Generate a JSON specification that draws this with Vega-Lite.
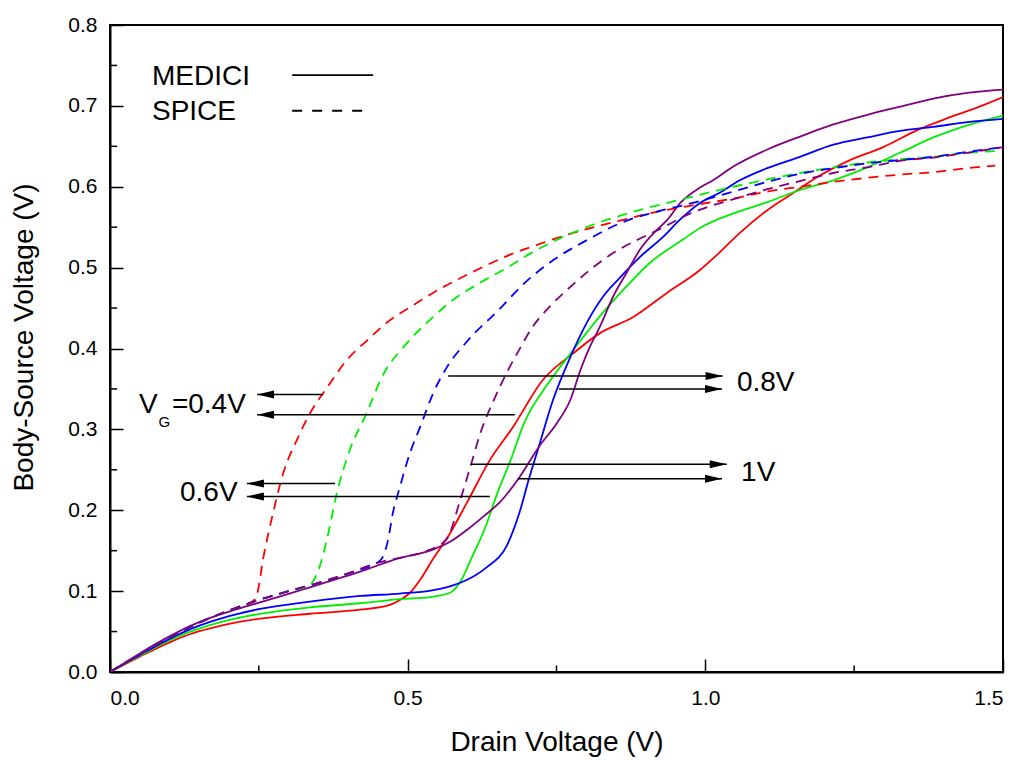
{
  "$schema": "https://vega.github.io/schema/vega-lite/v6.json",
  "autosize": {"type": "none"},
  "padding": {"left": 110, "top": 25, "right": 21, "bottom": 88},
  "width": 893,
  "height": 647,
  "background": "white",
  "config": {
    "font": "Liberation Sans",
    "view": {"stroke": "black", "strokeWidth": 2},
    "axis": {
      "grid": false,
      "domainColor": "black",
      "domainWidth": 2,
      "tickColor": "black",
      "tickWidth": 1.5,
      "tickSize": -13,
      "labelColor": "black",
      "labelFontSize": 21,
      "titleColor": "black",
      "titleFontSize": 28,
      "titleFontWeight": "normal",
      "labelFont": "Liberation Sans",
      "titleFont": "Liberation Sans"
    }
  },
  "datasets": {
    "curves": [
      {"vg":"0.4","model":"MEDICI","x":0,"y":0},{"vg":"0.4","model":"MEDICI","x":0.05,"y":0.019},{"vg":"0.4","model":"MEDICI","x":0.101,"y":0.037},{"vg":"0.4","model":"MEDICI","x":0.135,"y":0.047},{"vg":"0.4","model":"MEDICI","x":0.168,"y":0.054},{"vg":"0.4","model":"MEDICI","x":0.21,"y":0.061},{"vg":"0.4","model":"MEDICI","x":0.252,"y":0.066},{"vg":"0.4","model":"MEDICI","x":0.336,"y":0.072},{"vg":"0.4","model":"MEDICI","x":0.42,"y":0.077},{"vg":"0.4","model":"MEDICI","x":0.47,"y":0.083},{"vg":"0.4","model":"MEDICI","x":0.487,"y":0.089},{"vg":"0.4","model":"MEDICI","x":0.504,"y":0.098},{"vg":"0.4","model":"MEDICI","x":0.521,"y":0.114},{"vg":"0.4","model":"MEDICI","x":0.541,"y":0.138},{"vg":"0.4","model":"MEDICI","x":0.57,"y":0.17},{"vg":"0.4","model":"MEDICI","x":0.6,"y":0.21},{"vg":"0.4","model":"MEDICI","x":0.638,"y":0.262},{"vg":"0.4","model":"MEDICI","x":0.677,"y":0.303},{"vg":"0.4","model":"MEDICI","x":0.727,"y":0.361},{"vg":"0.4","model":"MEDICI","x":0.778,"y":0.394},{"vg":"0.4","model":"MEDICI","x":0.823,"y":0.419},{"vg":"0.4","model":"MEDICI","x":0.879,"y":0.439},{"vg":"0.4","model":"MEDICI","x":0.936,"y":0.469},{"vg":"0.4","model":"MEDICI","x":0.991,"y":0.497},{"vg":"0.4","model":"MEDICI","x":1.02,"y":0.516},{"vg":"0.4","model":"MEDICI","x":1.058,"y":0.543},{"vg":"0.4","model":"MEDICI","x":1.104,"y":0.571},{"vg":"0.4","model":"MEDICI","x":1.147,"y":0.592},{"vg":"0.4","model":"MEDICI","x":1.188,"y":0.612},{"vg":"0.4","model":"MEDICI","x":1.243,"y":0.633},{"vg":"0.4","model":"MEDICI","x":1.299,"y":0.649},{"vg":"0.4","model":"MEDICI","x":1.356,"y":0.67},{"vg":"0.4","model":"MEDICI","x":1.411,"y":0.686},{"vg":"0.4","model":"MEDICI","x":1.467,"y":0.701},{"vg":"0.4","model":"MEDICI","x":1.5,"y":0.711},

      {"vg":"0.6","model":"MEDICI","x":0,"y":0},{"vg":"0.6","model":"MEDICI","x":0.05,"y":0.02},{"vg":"0.6","model":"MEDICI","x":0.1,"y":0.039},{"vg":"0.6","model":"MEDICI","x":0.135,"y":0.05},{"vg":"0.6","model":"MEDICI","x":0.168,"y":0.058},{"vg":"0.6","model":"MEDICI","x":0.21,"y":0.066},{"vg":"0.6","model":"MEDICI","x":0.252,"y":0.072},{"vg":"0.6","model":"MEDICI","x":0.336,"y":0.08},{"vg":"0.6","model":"MEDICI","x":0.42,"y":0.085},{"vg":"0.6","model":"MEDICI","x":0.487,"y":0.09},{"vg":"0.6","model":"MEDICI","x":0.541,"y":0.093},{"vg":"0.6","model":"MEDICI","x":0.571,"y":0.098},{"vg":"0.6","model":"MEDICI","x":0.588,"y":0.111},{"vg":"0.6","model":"MEDICI","x":0.608,"y":0.142},{"vg":"0.6","model":"MEDICI","x":0.63,"y":0.178},{"vg":"0.6","model":"MEDICI","x":0.65,"y":0.22},{"vg":"0.6","model":"MEDICI","x":0.673,"y":0.262},{"vg":"0.6","model":"MEDICI","x":0.694,"y":0.305},{"vg":"0.6","model":"MEDICI","x":0.74,"y":0.361},{"vg":"0.6","model":"MEDICI","x":0.778,"y":0.398},{"vg":"0.6","model":"MEDICI","x":0.823,"y":0.44},{"vg":"0.6","model":"MEDICI","x":0.868,"y":0.477},{"vg":"0.6","model":"MEDICI","x":0.907,"y":0.506},{"vg":"0.6","model":"MEDICI","x":0.963,"y":0.535},{"vg":"0.6","model":"MEDICI","x":0.991,"y":0.549},{"vg":"0.6","model":"MEDICI","x":1.047,"y":0.567},{"vg":"0.6","model":"MEDICI","x":1.104,"y":0.581},{"vg":"0.6","model":"MEDICI","x":1.159,"y":0.596},{"vg":"0.6","model":"MEDICI","x":1.215,"y":0.608},{"vg":"0.6","model":"MEDICI","x":1.272,"y":0.624},{"vg":"0.6","model":"MEDICI","x":1.327,"y":0.642},{"vg":"0.6","model":"MEDICI","x":1.383,"y":0.661},{"vg":"0.6","model":"MEDICI","x":1.44,"y":0.676},{"vg":"0.6","model":"MEDICI","x":1.5,"y":0.688},

      {"vg":"0.8","model":"MEDICI","x":0,"y":0},{"vg":"0.8","model":"MEDICI","x":0.05,"y":0.021},{"vg":"0.8","model":"MEDICI","x":0.1,"y":0.041},{"vg":"0.8","model":"MEDICI","x":0.135,"y":0.053},{"vg":"0.8","model":"MEDICI","x":0.168,"y":0.062},{"vg":"0.8","model":"MEDICI","x":0.21,"y":0.071},{"vg":"0.8","model":"MEDICI","x":0.252,"y":0.078},{"vg":"0.8","model":"MEDICI","x":0.336,"y":0.087},{"vg":"0.8","model":"MEDICI","x":0.42,"y":0.094},{"vg":"0.8","model":"MEDICI","x":0.487,"y":0.097},{"vg":"0.8","model":"MEDICI","x":0.541,"y":0.101},{"vg":"0.8","model":"MEDICI","x":0.571,"y":0.106},{"vg":"0.8","model":"MEDICI","x":0.6,"y":0.114},{"vg":"0.8","model":"MEDICI","x":0.632,"y":0.129},{"vg":"0.8","model":"MEDICI","x":0.667,"y":0.157},{"vg":"0.8","model":"MEDICI","x":0.689,"y":0.2},{"vg":"0.8","model":"MEDICI","x":0.703,"y":0.237},{"vg":"0.8","model":"MEDICI","x":0.72,"y":0.278},{"vg":"0.8","model":"MEDICI","x":0.744,"y":0.336},{"vg":"0.8","model":"MEDICI","x":0.773,"y":0.389},{"vg":"0.8","model":"MEDICI","x":0.801,"y":0.432},{"vg":"0.8","model":"MEDICI","x":0.828,"y":0.464},{"vg":"0.8","model":"MEDICI","x":0.857,"y":0.488},{"vg":"0.8","model":"MEDICI","x":0.89,"y":0.513},{"vg":"0.8","model":"MEDICI","x":0.929,"y":0.538},{"vg":"0.8","model":"MEDICI","x":0.957,"y":0.559},{"vg":"0.8","model":"MEDICI","x":0.991,"y":0.58},{"vg":"0.8","model":"MEDICI","x":1.025,"y":0.593},{"vg":"0.8","model":"MEDICI","x":1.058,"y":0.608},{"vg":"0.8","model":"MEDICI","x":1.104,"y":0.623},{"vg":"0.8","model":"MEDICI","x":1.159,"y":0.637},{"vg":"0.8","model":"MEDICI","x":1.215,"y":0.652},{"vg":"0.8","model":"MEDICI","x":1.272,"y":0.661},{"vg":"0.8","model":"MEDICI","x":1.327,"y":0.669},{"vg":"0.8","model":"MEDICI","x":1.383,"y":0.674},{"vg":"0.8","model":"MEDICI","x":1.44,"y":0.68},{"vg":"0.8","model":"MEDICI","x":1.5,"y":0.684},

      {"vg":"1.0","model":"MEDICI","x":0,"y":0},{"vg":"1.0","model":"MEDICI","x":0.05,"y":0.023},{"vg":"1.0","model":"MEDICI","x":0.1,"y":0.044},{"vg":"1.0","model":"MEDICI","x":0.135,"y":0.057},{"vg":"1.0","model":"MEDICI","x":0.168,"y":0.067},{"vg":"1.0","model":"MEDICI","x":0.21,"y":0.077},{"vg":"1.0","model":"MEDICI","x":0.252,"y":0.086},{"vg":"1.0","model":"MEDICI","x":0.319,"y":0.101},{"vg":"1.0","model":"MEDICI","x":0.42,"y":0.124},{"vg":"1.0","model":"MEDICI","x":0.487,"y":0.141},{"vg":"1.0","model":"MEDICI","x":0.541,"y":0.151},{"vg":"1.0","model":"MEDICI","x":0.571,"y":0.161},{"vg":"1.0","model":"MEDICI","x":0.6,"y":0.176},{"vg":"1.0","model":"MEDICI","x":0.63,"y":0.194},{"vg":"1.0","model":"MEDICI","x":0.655,"y":0.21},{"vg":"1.0","model":"MEDICI","x":0.687,"y":0.24},{"vg":"1.0","model":"MEDICI","x":0.722,"y":0.28},{"vg":"1.0","model":"MEDICI","x":0.75,"y":0.307},{"vg":"1.0","model":"MEDICI","x":0.773,"y":0.336},{"vg":"1.0","model":"MEDICI","x":0.791,"y":0.375},{"vg":"1.0","model":"MEDICI","x":0.806,"y":0.402},{"vg":"1.0","model":"MEDICI","x":0.823,"y":0.427},{"vg":"1.0","model":"MEDICI","x":0.845,"y":0.464},{"vg":"1.0","model":"MEDICI","x":0.868,"y":0.494},{"vg":"1.0","model":"MEDICI","x":0.89,"y":0.522},{"vg":"1.0","model":"MEDICI","x":0.919,"y":0.547},{"vg":"1.0","model":"MEDICI","x":0.936,"y":0.559},{"vg":"1.0","model":"MEDICI","x":0.958,"y":0.58},{"vg":"1.0","model":"MEDICI","x":0.991,"y":0.599},{"vg":"1.0","model":"MEDICI","x":1.013,"y":0.608},{"vg":"1.0","model":"MEDICI","x":1.047,"y":0.625},{"vg":"1.0","model":"MEDICI","x":1.104,"y":0.646},{"vg":"1.0","model":"MEDICI","x":1.159,"y":0.662},{"vg":"1.0","model":"MEDICI","x":1.215,"y":0.677},{"vg":"1.0","model":"MEDICI","x":1.272,"y":0.689},{"vg":"1.0","model":"MEDICI","x":1.327,"y":0.699},{"vg":"1.0","model":"MEDICI","x":1.383,"y":0.709},{"vg":"1.0","model":"MEDICI","x":1.44,"y":0.716},{"vg":"1.0","model":"MEDICI","x":1.5,"y":0.72},

      {"vg":"0.4","model":"SPICE","x":0,"y":0},{"vg":"0.4","model":"SPICE","x":0.05,"y":0.022},{"vg":"0.4","model":"SPICE","x":0.1,"y":0.043},{"vg":"0.4","model":"SPICE","x":0.15,"y":0.061},{"vg":"0.4","model":"SPICE","x":0.2,"y":0.076},{"vg":"0.4","model":"SPICE","x":0.244,"y":0.09},{"vg":"0.4","model":"SPICE","x":0.259,"y":0.147},{"vg":"0.4","model":"SPICE","x":0.274,"y":0.197},{"vg":"0.4","model":"SPICE","x":0.291,"y":0.246},{"vg":"0.4","model":"SPICE","x":0.314,"y":0.287},{"vg":"0.4","model":"SPICE","x":0.336,"y":0.32},{"vg":"0.4","model":"SPICE","x":0.365,"y":0.352},{"vg":"0.4","model":"SPICE","x":0.398,"y":0.386},{"vg":"0.4","model":"SPICE","x":0.432,"y":0.41},{"vg":"0.4","model":"SPICE","x":0.465,"y":0.432},{"vg":"0.4","model":"SPICE","x":0.504,"y":0.451},{"vg":"0.4","model":"SPICE","x":0.543,"y":0.469},{"vg":"0.4","model":"SPICE","x":0.583,"y":0.485},{"vg":"0.4","model":"SPICE","x":0.627,"y":0.501},{"vg":"0.4","model":"SPICE","x":0.672,"y":0.516},{"vg":"0.4","model":"SPICE","x":0.717,"y":0.528},{"vg":"0.4","model":"SPICE","x":0.778,"y":0.543},{"vg":"0.4","model":"SPICE","x":0.845,"y":0.556},{"vg":"0.4","model":"SPICE","x":0.912,"y":0.568},{"vg":"0.4","model":"SPICE","x":0.979,"y":0.577},{"vg":"0.4","model":"SPICE","x":1.058,"y":0.587},{"vg":"0.4","model":"SPICE","x":1.104,"y":0.594},{"vg":"0.4","model":"SPICE","x":1.159,"y":0.6},{"vg":"0.4","model":"SPICE","x":1.215,"y":0.606},{"vg":"0.4","model":"SPICE","x":1.272,"y":0.611},{"vg":"0.4","model":"SPICE","x":1.327,"y":0.615},{"vg":"0.4","model":"SPICE","x":1.383,"y":0.618},{"vg":"0.4","model":"SPICE","x":1.44,"y":0.623},{"vg":"0.4","model":"SPICE","x":1.487,"y":0.626},

      {"vg":"0.6","model":"SPICE","x":0,"y":0},{"vg":"0.6","model":"SPICE","x":0.05,"y":0.022},{"vg":"0.6","model":"SPICE","x":0.1,"y":0.043},{"vg":"0.6","model":"SPICE","x":0.15,"y":0.061},{"vg":"0.6","model":"SPICE","x":0.2,"y":0.076},{"vg":"0.6","model":"SPICE","x":0.25,"y":0.089},{"vg":"0.6","model":"SPICE","x":0.3,"y":0.1},{"vg":"0.6","model":"SPICE","x":0.335,"y":0.107},{"vg":"0.6","model":"SPICE","x":0.352,"y":0.13},{"vg":"0.6","model":"SPICE","x":0.364,"y":0.163},{"vg":"0.6","model":"SPICE","x":0.381,"y":0.221},{"vg":"0.6","model":"SPICE","x":0.403,"y":0.275},{"vg":"0.6","model":"SPICE","x":0.431,"y":0.32},{"vg":"0.6","model":"SPICE","x":0.457,"y":0.365},{"vg":"0.6","model":"SPICE","x":0.498,"y":0.406},{"vg":"0.6","model":"SPICE","x":0.537,"y":0.435},{"vg":"0.6","model":"SPICE","x":0.576,"y":0.46},{"vg":"0.6","model":"SPICE","x":0.621,"y":0.481},{"vg":"0.6","model":"SPICE","x":0.667,"y":0.5},{"vg":"0.6","model":"SPICE","x":0.705,"y":0.517},{"vg":"0.6","model":"SPICE","x":0.744,"y":0.532},{"vg":"0.6","model":"SPICE","x":0.811,"y":0.553},{"vg":"0.6","model":"SPICE","x":0.879,"y":0.569},{"vg":"0.6","model":"SPICE","x":0.958,"y":0.584},{"vg":"0.6","model":"SPICE","x":1.047,"y":0.6},{"vg":"0.6","model":"SPICE","x":1.104,"y":0.609},{"vg":"0.6","model":"SPICE","x":1.159,"y":0.617},{"vg":"0.6","model":"SPICE","x":1.215,"y":0.624},{"vg":"0.6","model":"SPICE","x":1.272,"y":0.63},{"vg":"0.6","model":"SPICE","x":1.327,"y":0.634},{"vg":"0.6","model":"SPICE","x":1.383,"y":0.637},{"vg":"0.6","model":"SPICE","x":1.44,"y":0.642},{"vg":"0.6","model":"SPICE","x":1.487,"y":0.644},

      {"vg":"0.8","model":"SPICE","x":0,"y":0},{"vg":"0.8","model":"SPICE","x":0.05,"y":0.022},{"vg":"0.8","model":"SPICE","x":0.1,"y":0.043},{"vg":"0.8","model":"SPICE","x":0.15,"y":0.061},{"vg":"0.8","model":"SPICE","x":0.2,"y":0.076},{"vg":"0.8","model":"SPICE","x":0.25,"y":0.089},{"vg":"0.8","model":"SPICE","x":0.3,"y":0.1},{"vg":"0.8","model":"SPICE","x":0.335,"y":0.107},{"vg":"0.8","model":"SPICE","x":0.4,"y":0.122},{"vg":"0.8","model":"SPICE","x":0.454,"y":0.138},{"vg":"0.8","model":"SPICE","x":0.467,"y":0.163},{"vg":"0.8","model":"SPICE","x":0.475,"y":0.196},{"vg":"0.8","model":"SPICE","x":0.487,"y":0.229},{"vg":"0.8","model":"SPICE","x":0.504,"y":0.271},{"vg":"0.8","model":"SPICE","x":0.521,"y":0.303},{"vg":"0.8","model":"SPICE","x":0.543,"y":0.345},{"vg":"0.8","model":"SPICE","x":0.566,"y":0.377},{"vg":"0.8","model":"SPICE","x":0.6,"y":0.409},{"vg":"0.8","model":"SPICE","x":0.652,"y":0.447},{"vg":"0.8","model":"SPICE","x":0.695,"y":0.48},{"vg":"0.8","model":"SPICE","x":0.744,"y":0.509},{"vg":"0.8","model":"SPICE","x":0.801,"y":0.534},{"vg":"0.8","model":"SPICE","x":0.857,"y":0.555},{"vg":"0.8","model":"SPICE","x":0.912,"y":0.568},{"vg":"0.8","model":"SPICE","x":0.979,"y":0.58},{"vg":"0.8","model":"SPICE","x":1.047,"y":0.594},{"vg":"0.8","model":"SPICE","x":1.104,"y":0.606},{"vg":"0.8","model":"SPICE","x":1.159,"y":0.616},{"vg":"0.8","model":"SPICE","x":1.215,"y":0.623},{"vg":"0.8","model":"SPICE","x":1.272,"y":0.629},{"vg":"0.8","model":"SPICE","x":1.327,"y":0.633},{"vg":"0.8","model":"SPICE","x":1.383,"y":0.637},{"vg":"0.8","model":"SPICE","x":1.44,"y":0.643},{"vg":"0.8","model":"SPICE","x":1.5,"y":0.649},

      {"vg":"1.0","model":"SPICE","x":0,"y":0},{"vg":"1.0","model":"SPICE","x":0.05,"y":0.022},{"vg":"1.0","model":"SPICE","x":0.1,"y":0.043},{"vg":"1.0","model":"SPICE","x":0.15,"y":0.061},{"vg":"1.0","model":"SPICE","x":0.2,"y":0.076},{"vg":"1.0","model":"SPICE","x":0.25,"y":0.089},{"vg":"1.0","model":"SPICE","x":0.3,"y":0.1},{"vg":"1.0","model":"SPICE","x":0.335,"y":0.107},{"vg":"1.0","model":"SPICE","x":0.4,"y":0.122},{"vg":"1.0","model":"SPICE","x":0.454,"y":0.136},{"vg":"1.0","model":"SPICE","x":0.5,"y":0.143},{"vg":"1.0","model":"SPICE","x":0.53,"y":0.149},{"vg":"1.0","model":"SPICE","x":0.566,"y":0.165},{"vg":"1.0","model":"SPICE","x":0.588,"y":0.212},{"vg":"1.0","model":"SPICE","x":0.605,"y":0.253},{"vg":"1.0","model":"SPICE","x":0.622,"y":0.295},{"vg":"1.0","model":"SPICE","x":0.647,"y":0.34},{"vg":"1.0","model":"SPICE","x":0.667,"y":0.371},{"vg":"1.0","model":"SPICE","x":0.684,"y":0.394},{"vg":"1.0","model":"SPICE","x":0.71,"y":0.427},{"vg":"1.0","model":"SPICE","x":0.739,"y":0.452},{"vg":"1.0","model":"SPICE","x":0.773,"y":0.476},{"vg":"1.0","model":"SPICE","x":0.806,"y":0.497},{"vg":"1.0","model":"SPICE","x":0.845,"y":0.518},{"vg":"1.0","model":"SPICE","x":0.885,"y":0.534},{"vg":"1.0","model":"SPICE","x":0.919,"y":0.546},{"vg":"1.0","model":"SPICE","x":0.975,"y":0.567},{"vg":"1.0","model":"SPICE","x":1.058,"y":0.587},{"vg":"1.0","model":"SPICE","x":1.104,"y":0.597},{"vg":"1.0","model":"SPICE","x":1.159,"y":0.607},{"vg":"1.0","model":"SPICE","x":1.215,"y":0.617},{"vg":"1.0","model":"SPICE","x":1.272,"y":0.624},{"vg":"1.0","model":"SPICE","x":1.327,"y":0.632},{"vg":"1.0","model":"SPICE","x":1.383,"y":0.636},{"vg":"1.0","model":"SPICE","x":1.44,"y":0.642},{"vg":"1.0","model":"SPICE","x":1.5,"y":0.649}
    ],
    "arrows": [
      {"y":0.343,"xs":0.358,"xe":0.247,"dir":"left"},
      {"y":0.318,"xs":0.680,"xe":0.247,"dir":"left"},
      {"y":0.233,"xs":0.378,"xe":0.230,"dir":"left"},
      {"y":0.217,"xs":0.638,"xe":0.230,"dir":"left"},
      {"y":0.366,"xs":0.568,"xe":1.029,"dir":"right"},
      {"y":0.350,"xs":0.754,"xe":1.028,"dir":"right"},
      {"y":0.257,"xs":0.606,"xe":1.036,"dir":"right"},
      {"y":0.239,"xs":0.685,"xe":1.028,"dir":"right"}
    ],
    "labels": [
      {"x":0.0705,"y":0.736,"text":"MEDICI"},
      {"x":0.0705,"y":0.692,"text":"SPICE"},
      {"x":0.0487,"y":0.330,"text":"V"},
      {"x":0.104,"y":0.330,"text":"=0.4V"},
      {"x":0.1176,"y":0.2213,"text":"0.6V"},
      {"x":1.053,"y":0.357,"text":"0.8V"},
      {"x":1.06,"y":0.246,"text":"1V"}
    ],
    "legendLines": [
      {"model":"MEDICI","x1":0.306,"x2":0.442,"y":0.738},
      {"model":"SPICE","x1":0.306,"x2":0.436,"y":0.694}
    ],
    "minorX": [{"x":0.25},{"x":0.75},{"x":1.25}],
    "minorY": [{"y":0.05},{"y":0.15},{"y":0.25},{"y":0.35},{"y":0.45},{"y":0.55},{"y":0.65},{"y":0.75}]
  },
  "layer": [
    {
      "data": {"name": "curves"},
      "transform": [{"filter": "datum.model === 'MEDICI'"}],
      "mark": {"type": "line", "strokeWidth": 1.8, "interpolate": "monotone", "clip": true},
      "encoding": {
        "x": {"field": "x", "type": "quantitative", "scale": {"domain": [0, 1.5], "nice": false, "zero": false},
          "axis": {"values": [0, 0.5, 1, 1.5], "format": ".1f", "title": "Drain Voltage (V)", "labelPadding": 28, "titlePadding": 20}},
        "y": {"field": "y", "type": "quantitative", "scale": {"domain": [0, 0.8], "nice": false},
          "axis": {"values": [0, 0.1, 0.2, 0.3, 0.4, 0.5, 0.6, 0.7, 0.8], "format": ".1f", "title": "Body-Source Voltage (V)", "labelPadding": 26, "titlePadding": 29, "titleY": 312}},
        "color": {"field": "vg", "type": "nominal", "scale": {"domain": ["0.4", "0.6", "0.8", "1.0"], "range": ["#ff0000", "#00ee00", "#0000ff", "#800080"]}, "legend": null},
        "detail": {"field": "model"}
      }
    },
    {
      "data": {"name": "curves"},
      "transform": [{"filter": "datum.model === 'SPICE'"}],
      "mark": {"type": "line", "strokeWidth": 1.8, "strokeDash": [10, 7], "interpolate": "monotone", "clip": true},
      "encoding": {
        "x": {"field": "x", "type": "quantitative"},
        "y": {"field": "y", "type": "quantitative"},
        "color": {"field": "vg", "type": "nominal", "legend": null},
        "detail": {"field": "model"}
      }
    },
    {
      "data": {"name": "minorX"},
      "mark": {"type": "rule", "color": "black", "strokeWidth": 1.5},
      "encoding": {"x": {"field": "x", "type": "quantitative"}, "y": {"datum": 0}, "y2": {"datum": 0.008}}
    },
    {
      "data": {"name": "minorY"},
      "mark": {"type": "rule", "color": "black", "strokeWidth": 1.5},
      "encoding": {"y": {"field": "y", "type": "quantitative"}, "x": {"datum": 0}, "x2": {"datum": 0.012}}
    },
    {
      "data": {"name": "arrows"},
      "mark": {"type": "rule", "color": "black", "strokeWidth": 1.5},
      "encoding": {"x": {"field": "xs", "type": "quantitative"}, "x2": {"field": "xe"}, "y": {"field": "y", "type": "quantitative"}}
    },
    {
      "data": {"name": "arrows"},
      "mark": {"type": "point", "filled": true, "color": "black", "opacity": 1, "size": 289, "strokeWidth": 0},
      "encoding": {
        "x": {"field": "xe", "type": "quantitative"},
        "y": {"field": "y", "type": "quantitative"},
        "shape": {"field": "dir", "type": "nominal", "scale": {"domain": ["left", "right"], "range": ["M0,0L2,-0.47L2,0.47Z", "M0,0L-2,-0.47L-2,0.47Z"]}, "legend": null}
      }
    },
    {
      "data": {"name": "legendLines"},
      "transform": [{"filter": "datum.model === 'MEDICI'"}],
      "mark": {"type": "rule", "color": "black", "strokeWidth": 1.8},
      "encoding": {"x": {"field": "x1", "type": "quantitative"}, "x2": {"field": "x2"}, "y": {"field": "y", "type": "quantitative"}}
    },
    {
      "data": {"name": "legendLines"},
      "transform": [{"filter": "datum.model === 'SPICE'"}],
      "mark": {"type": "rule", "color": "black", "strokeWidth": 1.8, "strokeDash": [10, 10]},
      "encoding": {"x": {"field": "x1", "type": "quantitative"}, "x2": {"field": "x2"}, "y": {"field": "y", "type": "quantitative"}}
    },
    {
      "data": {"name": "labels"},
      "mark": {"type": "text", "align": "left", "baseline": "middle", "fontSize": 28, "color": "black", "font": "Liberation Sans"},
      "encoding": {"x": {"field": "x", "type": "quantitative"}, "y": {"field": "y", "type": "quantitative"}, "text": {"field": "text"}}
    },
    {
      "data": {"values": [{"x": 0.0815, "y": 0.309, "text": "G"}]},
      "mark": {"type": "text", "align": "left", "baseline": "middle", "fontSize": 15, "color": "black", "font": "Liberation Sans"},
      "encoding": {"x": {"field": "x", "type": "quantitative"}, "y": {"field": "y", "type": "quantitative"}, "text": {"field": "text"}}
    }
  ]
}
